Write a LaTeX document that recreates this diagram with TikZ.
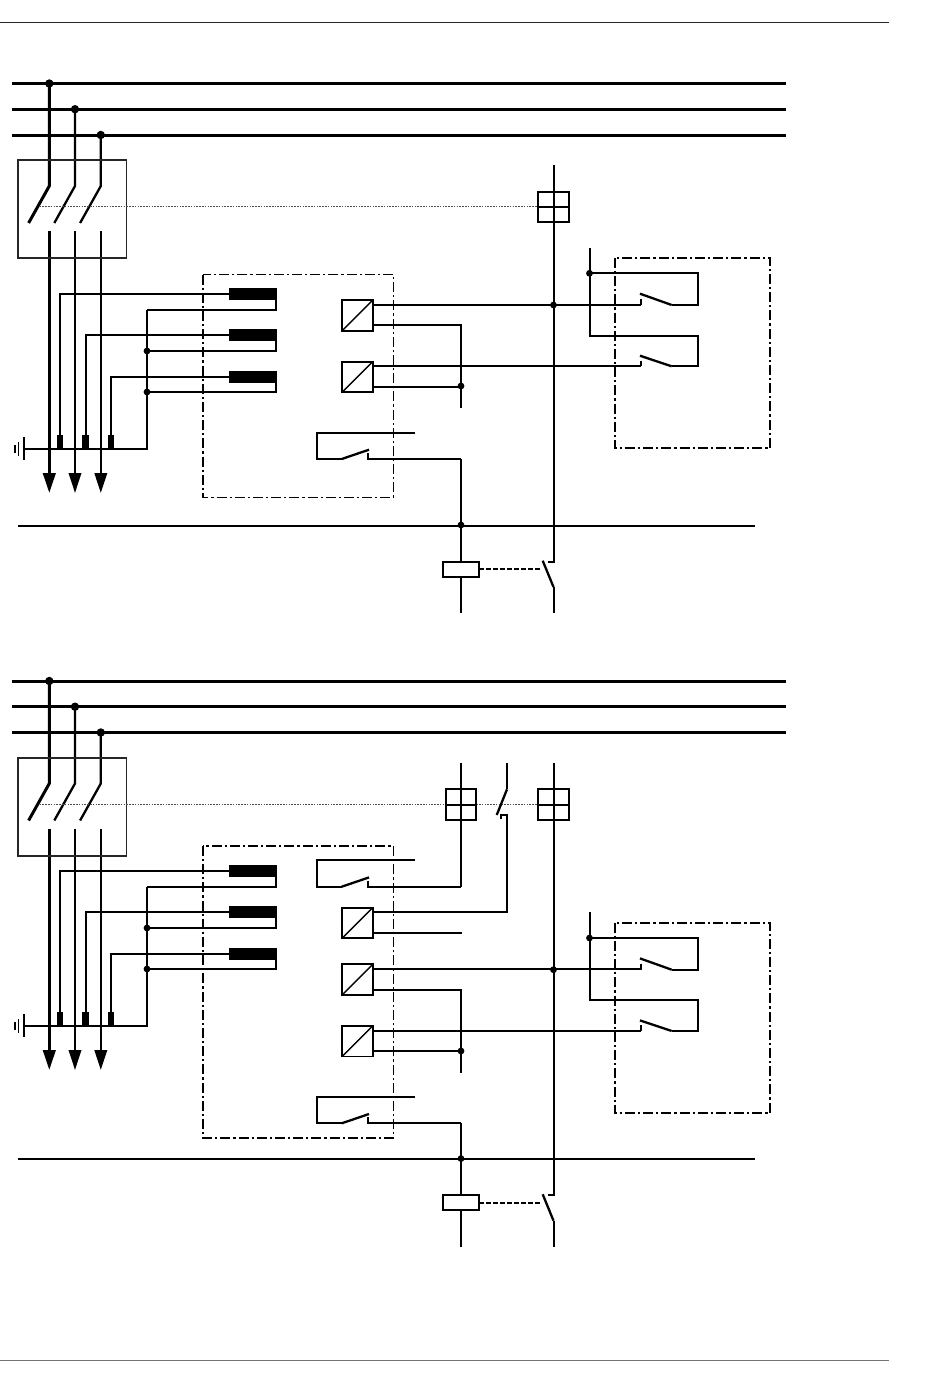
\documentclass[tikz,border=0pt]{standalone}
\usetikzlibrary{arrows.meta}
\tikzset{
  heavy/.style={line width=1.5pt},
  mid/.style={line width=1.15pt},
  thin wire/.style={line width=1pt},
  frameline/.style={line width=0.8pt,black!85},
  dashdot/.style={line width=0.85pt,dash pattern=on 5pt off 1.5pt on 1.1pt off 1.5pt},
  linkage/.style={line width=0.4pt,black!70,dash pattern=on 0.8pt off 0.6pt},
  coillink/.style={line width=1pt,dash pattern=on 2.2pt off 1.3pt},
  dotj/.style={circle,fill=black,inner sep=0pt,minimum size=3.4pt,outer sep=0pt},
  dotl/.style={circle,fill=black,inner sep=0pt,minimum size=4.2pt,outer sep=0pt},
  sensorbar/.style={fill=black,draw=none,inner sep=0pt,outer sep=0pt,minimum width=24pt,minimum height=5.9pt},
  ctblock/.style={fill=black,draw=none,inner sep=0pt,outer sep=0pt,minimum width=3.4pt,minimum height=6.8pt},
  transducer/.style={draw,line width=0.9pt,inner sep=0pt,outer sep=0pt,minimum size=15.2pt},
  fusebox/.style={draw,line width=1pt,inner sep=0pt,outer sep=0pt,minimum width=15.3pt,minimum height=15.3pt},
  coilbox/.style={draw,line width=1pt,fill=white,inner sep=0pt,outer sep=0pt,minimum width=18.2pt,minimum height=7.8pt},
  mainarrow/.style={-{Triangle[length=10pt,width=6.2pt]}},
}
\newcommand{\feeder}[4]{%
% #1 bar y, #2 box offset, #3 lower offset, #4 prefix
\foreach \bx/\by/\bw/\dn in {49.3/0/heavy/a,75/25.7/mid/b,100.8/51.5/mid/c}{
  \coordinate (#4\dn top) at (\bx,#1+\by);
  \coordinate (#4\dn hinge) at (\bx,#2+186);
  \coordinate (#4\dn free) at (\bx-20.7,#2+223);
  \coordinate (#4\dn fixed) at (\bx,#2+231);
  \coordinate (#4\dn end) at (\bx,#3+493);
  \draw[heavy] (12,#1+\by) -- (786,#1+\by);
  \draw[\bw] (#4\dn top) -- (#4\dn hinge) -- (#4\dn free);
  \draw[\bw,mainarrow] (#4\dn fixed) -- (#4\dn end);
  \node[dotl] at (#4\dn top) {};
}
\node[draw,frameline,inner sep=0pt,outer sep=0pt,minimum width=54.2pt,minimum height=49pt] (#4box) at (72.4,#2+209.2) {};
\foreach \sy/\cx/\ry/\sn in {294/60/310/1,335.3/85.5/351/2,376.6/111/392/3}{
  \node[sensorbar] (#4s\sn) at (252.8,#3+\sy) {};
  \node[ctblock] (#4k\sn) at (\cx,#3+442) {};
  \draw[thin wire] (#4s\sn.west) -| (#4k\sn.north);
  \draw[thin wire] (276.3,#3+\sy) -- (276.3,#3+\ry) -- (147,#3+\ry);
}
\coordinate (#4gnd) at (23.8,#3+448.5);
\coordinate (#4star) at (147,#3+448.5);
\draw[thin wire] (#4gnd) -- (#4star) -- (147,#3+310);
\node[dotj] at (147,#3+351) {};
\node[dotj] at (147,#3+392) {};
\draw[thin wire] (23.8,#3+437) -- (23.8,#3+460);
\draw[line width=0.8pt] (18.5,#3+442) -- (18.5,#3+456);
\draw[line width=0.8pt] (14.8,#3+445) -- (14.8,#3+453);
}
\newcommand{\ncontact}[3]{%
% #1 bottom y, #2 top y, #3 fixed end x
\draw[thin wire] (415.3,#2) -- (316.7,#2) -- (316.7,#1) -- (341.7,#1);
\draw[mid] (341.7,#1) -- (369,#1-9.3);
\draw[thin wire] (368,#1-6) -- (368,#1) -- (#3,#1);}
\newcommand{\rcontacts}[1]{%
\draw[dashdot] (615,#1+258) rectangle (770,#1+448.3);
\draw[thin wire] (589.5,#1+247.7) -- (589.5,#1+335.7) -- (697.7,#1+335.7) -- (697.7,#1+366.3) -- (671.7,#1+366.3);
\draw[thin wire] (589.5,#1+273.3) -- (697.7,#1+273.3) -- (697.7,#1+305) -- (671.7,#1+305);
\draw[mid] (671.7,#1+305) -- (640,#1+293.7);
\draw[mid] (671.7,#1+366.3) -- (640,#1+355.7);
\draw[thin wire] (640.7,#1+299) -- (640.7,#1+305);
\draw[thin wire] (640.7,#1+360.5) -- (640.7,#1+366.3);
\node[dotj] at (589.5,#1+273.3) {};}
\newcommand{\transd}[2]{%
\node[transducer] (#1) at (357.5,#2) {};
\draw[line width=0.7pt] (#1.south west) -- (#1.north east);}
\begin{document}
\begin{tikzpicture}[x=0.5pt,y=-0.5pt]
\useasboundingbox (0,0) rectangle (950,1398);
\draw[line width=0.5pt,black!85] (0,22.5) -- (889,22.5);
\draw[line width=0.5pt,black!55] (0,1360) -- (889,1360);

%%% UPPER DIAGRAM
\feeder{83.5}{0}{0}{u}
\draw[dashdot] (203,274.5) rectangle (393.5,497.5);
\draw[linkage] (39.5,206.6) -- (538,206.6);
\node[fusebox] (uf) at (553.5,206.8) {};
\draw[thin wire] (uf.west) -- (uf.east);
\transd{ut1}{315.4}
\transd{ut2}{376.9}
\ncontact{459}{433}{461}
\coordinate (ubus) at (461,526);
\draw[thin wire] (18,526) -- (755,526);
\rcontacts{0}
\coordinate (uswe) at (553.5,561.5);
\draw[thin wire] (553.5,165) -- (uswe) -- (547.5,561.5);
\draw[mid] (542.7,560.7) -- (553.5,587);
\draw[thin wire] (553.5,587) -- (553.5,613);
\node[dotj] at (553.5,305) {};
\draw[thin wire] (372.7,304.7) -- (640.7,304.7);
\draw[thin wire] (372.7,366.2) -- (640.7,366.2);
\draw[mid] (372.7,325) -- (461,325) -- (461,407.7);
\draw[thin wire] (372.7,386.5) -- (461,386.5);
\node[dotj] at (461,386) {};
\draw[mid] (461,459) -- (ubus);
\node[coilbox] (uc) at (461,569.3) {};
\draw[mid] (ubus) -- (uc.north);
\draw[mid] (uc.south) -- (461,613);
\node[dotj] at (461,525) {};
\draw[coillink] (uc.east) -- (541,569.3);

%%% LOWER DIAGRAM
\feeder{681}{597.5}{577}{l}
\draw[dashdot] (203,846) rectangle (393.5,1138);
\draw[linkage] (39.5,804) -- (538,804);
\node[fusebox] (lf1) at (461,804.5) {};
\node[fusebox] (lf2) at (553.5,804.5) {};
\draw[thin wire] (lf1.west) -- (lf1.east);
\draw[thin wire] (lf2.west) -- (lf2.east);
\ncontact{886.7}{860.3}{461}
\draw[mid] (461,762.7) -- (461,886.7);
\draw[thin wire] (507,762.7) -- (507,789.3);
\draw[mid] (507,789.3) -- (496.7,815);
\draw[thin wire] (501,819) -- (501,815) -- (507,815) -- (507,912) -- (372.7,912);
\transd{lt1}{922.8}
\transd{lt2}{979.5}
\transd{lt3}{1041.2}
\draw[thin wire] (372.7,933) -- (461.7,933);
\ncontact{1123.3}{1097.3}{461}
\coordinate (lbus) at (461,1159.3);
\draw[thin wire] (18,1159.3) -- (755,1159.3);
\draw[mid] (553.7,1159.3) -- (580,1159.3);
\rcontacts{664.7}
\draw[thin wire] (553.5,762.7) -- (553.5,1195) -- (547.5,1195);
\draw[mid] (542.7,1194.3) -- (553.5,1220.7);
\draw[thin wire] (553.5,1220.7) -- (553.5,1246.7);
\node[dotj] at (553.5,969.7) {};
\draw[thin wire] (372.7,969) -- (640.7,969);
\draw[thin wire] (372.7,1030.8) -- (640.7,1030.8);
\draw[mid] (372.7,989.7) -- (461,989.7) -- (461,1072.7);
\draw[thin wire] (372.7,1051) -- (461,1051);
\node[dotj] at (461,1051) {};
\draw[mid] (461,1123.3) -- (lbus);
\node[coilbox] (lc) at (461,1202.6) {};
\draw[mid] (lbus) -- (lc.north);
\draw[mid] (lc.south) -- (461,1246.7);
\node[dotj] at (461,1158.6) {};
\draw[coillink] (lc.east) -- (541,1202.6);
\end{tikzpicture}
\end{document}
